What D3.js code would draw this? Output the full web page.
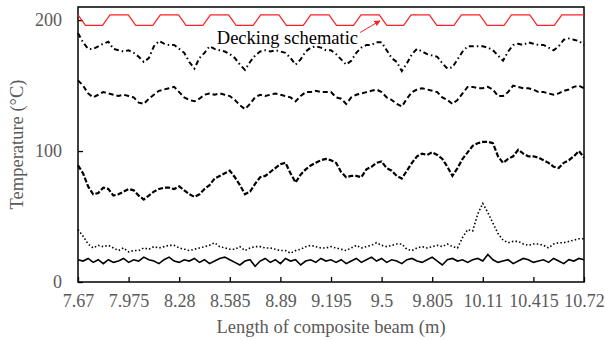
<!DOCTYPE html>
<html>
<head>
<meta charset="utf-8">
<script src="https://cdn.jsdelivr.net/npm/d3@7"></script>
<style>
  body { margin: 0; background: #fff; }
  svg text { font-family: "Times New Roman", "Liberation Serif", "DejaVu Serif", Times, serif; }
</style>
</head>
<body>
<div id="chart"></div>
<script>
// x tick positions and labels (m)
var xTicks = [7.67, 7.975, 8.28, 8.585, 8.89, 9.195, 9.5, 9.805, 10.11, 10.415, 10.72];
var xTickLabels = ["7.67", "7.975", "8.28", "8.585", "8.89", "9.195", "9.5", "9.805", "10.11", "10.415", "10.72"];
var yTicks = [0, 100, 200];

// stations along the beam: 101 readings, 7.67 .. 10.72 m
var stationStart = 7.67, stationEnd = 10.72, stationCount = 101;

// temperature readings (°C) at each station
var seriesA = [190, 183, 178, 178, 180, 182, 183.5, 178, 177, 176, 177, 175, 172, 168, 171, 180, 184, 182, 181, 181,
  178, 175, 168, 163, 171, 175, 180, 178, 177, 176, 174, 171, 166, 162, 168, 173, 176, 177, 176, 177,
  176, 175, 171, 166, 170, 176, 179, 180, 179, 177, 177, 174, 170, 166, 169, 175, 179, 181, 181, 183,
  183, 177, 171, 168, 161, 167, 174, 178, 176, 174, 173, 172, 167, 163, 164, 170, 176, 180, 180, 180,
  180, 179, 177, 173, 169, 176, 181, 182, 181, 183, 182, 181, 181, 179, 177, 180, 185, 186, 185, 184, 181];

var seriesB = [154, 150, 144, 141, 143, 145, 144, 143, 142, 143, 142, 141, 137, 136, 140, 143, 146, 147, 148, 149,
  145, 141, 139, 138, 140, 143, 144, 143, 144, 143, 142, 139, 135, 132, 136, 141, 143, 142, 143, 144,
  143, 142, 141, 138, 142, 145, 145, 146, 145, 145, 145, 141, 140, 136, 141, 143, 144, 145, 146, 147,
  145, 141, 139, 136, 134, 140, 145, 147, 148, 147, 146, 145, 141, 139, 136, 139, 144, 149, 149, 148,
  148, 149, 147, 142, 142, 145, 150, 149, 148, 148, 147, 145, 145, 144, 143, 144, 146, 147, 149, 150, 148];

var seriesC = [89, 83, 73, 67, 68, 72, 71, 66, 67, 69, 71, 70, 66, 63, 66, 69, 71, 72, 72, 71,
  73, 70, 67, 65, 67, 71, 74, 79, 81, 83, 85, 80, 74, 67, 69, 75, 80, 81, 84, 87,
  90, 91, 83, 76, 82, 86, 89, 91, 93, 94, 93, 91, 84, 80, 81, 81, 80, 86, 88, 91,
  92, 87, 85, 81, 79, 85, 91, 96, 98, 97, 99, 97, 94, 88, 81, 87, 94, 99, 104, 106,
  107, 107, 106, 96, 91, 94, 96, 101, 98, 96, 96, 95, 93, 91, 88, 87, 91, 93, 96, 100, 95];

var seriesD = [40, 35, 29, 26, 28, 27, 28, 26, 24, 26, 23, 24, 24, 26, 25, 27, 26, 27, 28, 28,
  26, 25, 24, 25, 26, 27, 28, 30, 27, 26, 25, 25, 27, 24, 26, 27, 27, 26, 26, 25,
  24, 24, 22, 24, 25, 27, 28, 27, 26, 26, 27, 26, 25, 24, 26, 28, 26, 27, 28, 30,
  28, 27, 28, 29, 29, 25, 24, 26, 27, 26, 27, 28, 27, 29, 27, 26, 34, 40, 39, 52,
  60, 53, 45, 37, 32, 30, 31, 31, 29, 28, 29, 29, 28, 26, 29, 30, 30, 31, 32, 33, 33];

var seriesE = [17, 16, 18, 15, 17, 14, 17, 15, 16, 18, 15, 17, 16, 19, 17, 16, 14, 17, 19, 16,
  15, 17, 16, 18, 15, 17, 14, 16, 18, 19, 17, 15, 13, 16, 17, 12, 16, 18, 15, 17,
  14, 18, 16, 17, 13, 16, 17, 15, 18, 16, 17, 15, 17, 14, 16, 18, 15, 17, 19, 16,
  18, 15, 17, 16, 14, 17, 18, 16, 15, 17, 19, 16, 13, 17, 18, 16, 17, 15, 17, 18,
  16, 21, 17, 15, 16, 17, 14, 16, 18, 17, 15, 16, 17, 15, 18, 16, 14, 17, 16, 18, 17];

// decking profile (schematic, drawn at ~200 °C)
var deckX = [7.67, 7.715, 7.818, 7.863, 7.973, 8.018, 8.121, 8.166, 8.276, 8.321, 8.423, 8.468, 8.578, 8.623,
  8.726, 8.771, 8.881, 8.926, 9.028, 9.073, 9.183, 9.228, 9.331, 9.376, 9.486, 9.531, 9.633, 9.678,
  9.788, 9.833, 9.936, 9.981, 10.091, 10.136, 10.238, 10.283, 10.393, 10.438, 10.541, 10.586, 10.72];
var deckY = [204, 196, 196, 204, 204, 196, 196, 204, 204, 196, 196, 204, 204, 196,
  196, 204, 204, 196, 196, 204, 204, 196, 196, 204, 204, 196, 196, 204,
  204, 196, 196, 204, 204, 196, 196, 204, 204, 196, 196, 204, 204];

var serif = "'Times New Roman', 'Liberation Serif', 'DejaVu Serif', serif";
var width = 605, height = 340;
var margin = {top: 7, right: 21, bottom: 58, left: 78};
var w = width - margin.left - margin.right, h = height - margin.top - margin.bottom;

var svg = d3.select("#chart").append("svg")
    .attr("width", width).attr("height", height);
var g = svg.append("g").attr("transform", "translate(" + margin.left + "," + margin.top + ")");

var x = d3.scaleLinear().domain([stationStart, stationEnd]).range([0, w]);
var y = d3.scaleLinear().domain([0, 210]).range([h, 0]);

var stations = d3.range(stationCount).map(function(i) {
  return stationStart + i * (stationEnd - stationStart) / (stationCount - 1);
});

var line = d3.line()
    .x(function(d) { return x(d[0]); })
    .y(function(d) { return y(d[1]); });

// axes
var xAxis = d3.axisBottom(x).tickValues(xTicks)
    .tickFormat(function(d, i) { return xTickLabels[i]; })
    .tickSizeInner(-5).tickSizeOuter(0).tickPadding(12);
var gx = g.append("g").attr("transform", "translate(0," + h + ")").call(xAxis);

var yAxis = d3.axisLeft(y).tickValues(yTicks)
    .tickSizeInner(-5).tickSizeOuter(0).tickPadding(16);
var gy = g.append("g").call(yAxis);

[gx, gy].forEach(function(a) {
  a.attr("font-family", serif);
  a.select(".domain").remove();
  a.selectAll("line").attr("stroke", "#000").attr("stroke-width", 1.3);
  a.selectAll("text").attr("fill", "#595959")
    .attr("font-family", serif).attr("font-size", 18);
});

// frame
g.append("rect").attr("x", 0).attr("y", 0).attr("width", w).attr("height", h)
    .attr("fill", "none").attr("stroke", "#000").attr("stroke-width", 1.5);

// series
var series = [
  {v: seriesA, dash: "5,3,1.5,3", sw: 2},
  {v: seriesB, dash: "5,3", sw: 2},
  {v: seriesC, dash: "5,2", sw: 2.2},
  {v: seriesD, dash: "1.5,2.2", sw: 1.6},
  {v: seriesE, dash: null, sw: 1.6}
];
series.forEach(function(s) {
  g.append("path")
      .datum(stations.map(function(st, i) { return [st, s.v[i]]; }))
      .attr("d", line)
      .attr("fill", "none")
      .attr("stroke", "#000")
      .attr("stroke-width", s.sw)
      .attr("stroke-dasharray", s.dash);
});

// decking schematic
g.append("path")
    .datum(deckX.map(function(d, i) { return [d, deckY[i]]; }))
    .attr("d", line)
    .attr("fill", "none")
    .attr("stroke", "#ff2020")
    .attr("stroke-width", 1.2);

svg.append("defs").append("marker")
    .attr("id", "arrow").attr("viewBox", "0 0 10 10")
    .attr("refX", 9).attr("refY", 5)
    .attr("markerWidth", 6).attr("markerHeight", 6)
    .attr("orient", "auto")
  .append("path").attr("d", "M0,0L10,5L0,10z").attr("fill", "#ff2020");

g.append("line")
    .attr("x1", x(9.37)).attr("y1", y(190.5))
    .attr("x2", x(9.49)).attr("y2", y(199.5))
    .attr("stroke", "#ff2020").attr("stroke-width", 1)
    .attr("marker-end", "url(#arrow)");

g.append("text")
    .attr("x", x(9.37) - 2).attr("y", y(182))
    .attr("text-anchor", "end")
    .attr("font-family", serif)
    .attr("font-size", 18.5)
    .attr("fill", "#000")
    .text("Decking schematic");

// axis titles
svg.append("text")
    .attr("x", margin.left + w / 2).attr("y", 333)
    .attr("text-anchor", "middle")
    .attr("font-family", serif)
    .attr("font-size", 18.5)
    .attr("fill", "#595959")
    .text("Length of composite beam (m)");

svg.append("text")
    .attr("transform", "translate(23," + (margin.top + h / 2) + ") rotate(-90)")
    .attr("text-anchor", "middle")
    .attr("font-family", serif)
    .attr("font-size", 18.5)
    .attr("fill", "#595959")
    .text("Temperature (°C)");
</script>
</body>
</html>
